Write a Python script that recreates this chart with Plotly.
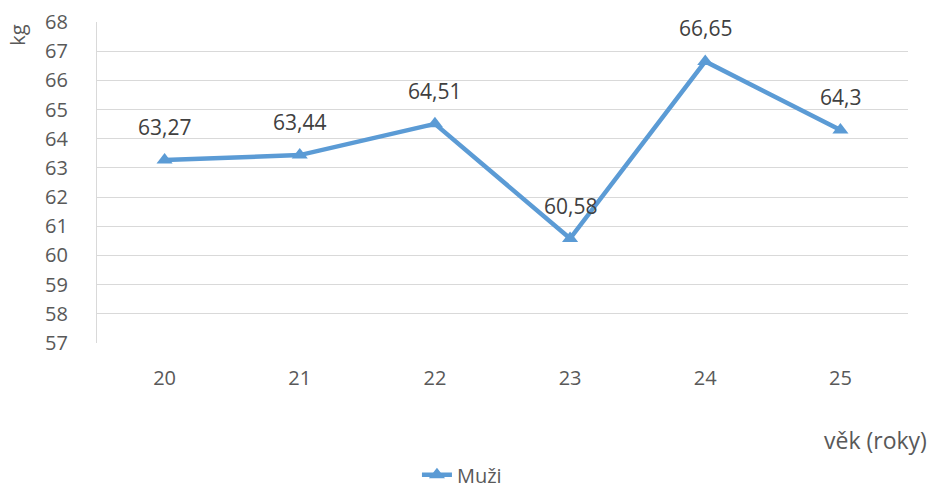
import plotly.graph_objects as go

ages = ["20", "21", "22", "23", "24", "25"]
weights = [63.27, 63.44, 64.51, 60.58, 66.65, 64.3]
labels = ["63,27", "63,44", "64,51", "60,58", "66,65", "64,3"]
series_name = "Muži"

font_fam = "Open Sans"
txt_col = "#595959"
lbl_col = "#404040"

fig = go.Figure()
fig.add_trace(go.Scatter(
    x=ages, y=weights, mode="lines+markers", name=series_name,
    line=dict(color="#5B9BD5", width=4.5),
    marker=dict(symbol="triangle-up", size=14, color="#5B9BD5"),
))

annots = [
    dict(x=i, y=w, text=t, xref="x", yref="y", showarrow=False, yshift=33,
         font=dict(family=font_fam, size=21, color=lbl_col))
    for i, (w, t) in enumerate(zip(weights, labels))
]
annots += [
    dict(text="věk (roky)", xref="paper", yref="paper", x=1.026, y=-0.302,
         xanchor="right", yanchor="middle", showarrow=False,
         font=dict(family=font_fam, size=23, color=txt_col)),
    dict(text="kg", xref="paper", yref="paper", x=-0.0975, y=0.96,
         xanchor="center", yanchor="middle", textangle=-90, showarrow=False,
         font=dict(family=font_fam, size=20, color=txt_col)),
]

fig.update_layout(
    width=930, height=492,
    margin=dict(l=97, r=22, t=22, b=149, autoexpand=False),
    paper_bgcolor="white", plot_bgcolor="white",
    font=dict(family=font_fam, size=20, color=txt_col),
    showlegend=True,
    legend=dict(orientation="h", x=0.45, xanchor="center", y=-0.35, yanchor="top",
                tracegroupgap=0, borderwidth=0,
                font=dict(family=font_fam, size=20, color=txt_col)),
    xaxis=dict(type="category", range=[-0.5, 5.5], showgrid=False, automargin=False,
               showline=False, ticks="", tickfont=dict(size=20), ticklabelstandoff=21),
    yaxis=dict(range=[57, 68], dtick=1, showgrid=True, gridcolor="#D9D9D9", gridwidth=1.3,
               zeroline=False, showline=True, linecolor="#D9D9D9", linewidth=1.3,
               automargin=False,
               ticks="", tickfont=dict(size=20), ticklabelstandoff=24),
    annotations=annots,
)
fig.write_html("out.html")
